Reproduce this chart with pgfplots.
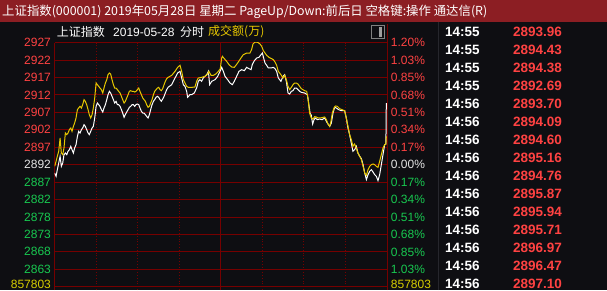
\documentclass[border=0pt]{standalone}
\usepackage{fontspec}
\setmainfont{Liberation Sans}
\newfontfamily\cjk{Noto Sans CJK SC}
\usepackage{pgfplots}
\pgfplotsset{compat=1.18}
\usepackage{pgfplotstable}

\definecolor{bg}{RGB}{14,14,18}
\definecolor{hdr}{RGB}{140,30,35}
\definecolor{gridred}{RGB}{118,0,0}
\definecolor{dotred}{RGB}{140,0,0}
\definecolor{upred}{RGB}{255,66,66}
\definecolor{dngreen}{RGB}{24,200,80}
\definecolor{lbwhite}{RGB}{228,228,228}
\definecolor{ylw}{RGB}{232,200,0}
\definecolor{volylw}{RGB}{215,205,0}

% white line: index price (minute from 9:30, afternoon continues at 120)
\pgfplotstableread{
m p
0.0 2890.02
1.0 2889.07
1.9 2890.96
2.9 2892.86
3.9 2894.76
4.8 2891.91
5.8 2892.86
6.7 2895.23
7.7 2895.70
8.7 2895.23
9.6 2896.18
10.6 2896.65
11.6 2897.60
12.5 2896.65
13.5 2895.70
14.4 2897.13
15.4 2898.07
16.4 2900.44
17.3 2901.87
18.3 2901.39
19.3 2902.34
20.2 2902.81
21.2 2903.76
22.1 2903.29
23.1 2902.34
24.1 2901.39
25.0 2900.92
26.0 2901.87
27.0 2902.81
27.9 2903.29
28.9 2905.66
29.9 2908.98
30.8 2909.92
31.8 2909.45
32.7 2908.98
33.7 2908.03
34.7 2907.36
35.6 2908.50
36.6 2909.45
37.6 2910.87
38.5 2912.29
39.5 2913.24
40.4 2912.77
41.4 2911.82
42.4 2910.87
43.3 2909.92
44.3 2910.40
45.3 2909.45
46.2 2909.45
47.2 2908.98
48.2 2908.03
49.1 2907.08
50.1 2905.85
51.0 2906.61
52.0 2907.36
53.0 2908.03
53.9 2908.69
54.9 2908.98
55.9 2909.45
56.8 2909.45
57.8 2908.98
58.7 2909.45
59.7 2909.64
60.7 2909.45
61.6 2908.50
62.6 2907.55
63.6 2907.08
64.5 2907.08
65.5 2906.61
66.4 2906.13
67.4 2905.66
68.4 2906.61
69.3 2908.03
70.3 2909.45
71.3 2910.40
72.2 2910.87
73.2 2911.54
74.2 2911.82
75.1 2911.54
76.1 2910.87
77.0 2910.40
78.0 2911.06
79.0 2911.82
79.9 2912.77
80.9 2913.72
81.9 2914.38
84.5 2915.14
86.9 2917.03
88.8 2918.46
90.5 2918.93
91.7 2917.03
92.9 2915.14
94.1 2914.66
95.3 2913.24
96.0 2911.54
97.7 2912.29
98.9 2912.29
100.8 2912.77
102.5 2914.19
103.7 2916.09
104.9 2916.56
106.1 2916.09
107.3 2917.03
108.5 2917.51
109.8 2917.98
111.0 2918.93
111.9 2915.14
113.4 2916.09
115.8 2916.56
117.7 2917.51
119.4 2918.93
120.6 2920.07
121.8 2918.93
123.0 2917.51
124.9 2916.56
126.6 2915.61
128.3 2915.14
129.7 2916.09
131.4 2917.51
133.1 2918.93
135.0 2919.40
137.0 2919.12
138.6 2920.07
140.3 2919.69
141.8 2919.40
142.7 2920.83
144.2 2921.96
145.9 2922.72
147.5 2922.91
149.0 2923.67
150.0 2924.14
150.9 2922.72
151.9 2921.30
153.1 2920.64
154.3 2919.88
156.2 2919.88
157.9 2920.07
159.1 2919.69
160.3 2918.93
161.5 2917.03
163.4 2916.09
164.9 2917.51
166.1 2917.98
167.3 2916.09
168.5 2912.77
169.7 2912.48
170.9 2913.24
172.1 2913.43
173.3 2914.19
174.5 2914.19
175.7 2913.72
176.9 2913.24
178.1 2912.96
180.5 2912.77
182.5 2912.29
183.4 2909.92
184.4 2907.08
185.3 2906.42
186.3 2903.95
187.3 2905.18
188.2 2905.66
189.7 2905.18
191.4 2905.37
193.1 2905.18
195.0 2905.66
196.2 2904.71
197.4 2903.95
198.6 2903.29
199.8 2904.24
201.0 2907.08
202.2 2908.69
203.4 2908.50
205.1 2908.03
207.0 2907.74
209.4 2907.74
210.6 2905.66
211.8 2902.81
213.0 2900.92
214.2 2898.55
215.4 2896.18
216.6 2896.65
217.8 2897.60
219.0 2895.70
220.3 2894.76
221.5 2894.09
222.7 2892.39
223.9 2890.02
225.1 2888.12
226.3 2889.54
227.5 2890.49
228.7 2890.96
229.9 2890.30
231.1 2889.54
232.3 2889.07
233.5 2887.84
234.7 2889.54
235.9 2892.39
237.1 2895.23
238.3 2898.07
239.2 2898.26
239.5 2909.91
}\whiteline

% yellow line: leading (unweighted) index
\pgfplotstableread{
m p
0.0 2891.91
1.0 2893.33
1.9 2894.76
2.9 2896.18
3.9 2899.97
4.8 2895.70
5.8 2895.23
6.7 2897.13
7.7 2901.39
8.7 2900.92
9.6 2901.39
10.6 2902.34
11.6 2902.81
12.5 2901.87
13.5 2903.29
14.4 2904.24
15.4 2905.66
16.4 2908.03
17.3 2908.50
18.3 2908.98
19.3 2908.50
20.2 2909.45
21.2 2910.87
22.1 2910.40
23.1 2909.45
24.1 2908.03
25.0 2906.61
26.0 2905.66
27.0 2906.61
27.9 2908.50
28.9 2911.35
29.9 2915.61
30.8 2915.14
31.8 2914.66
32.7 2914.19
33.7 2913.72
34.7 2912.77
35.6 2914.19
36.6 2915.61
37.6 2916.56
38.5 2917.98
39.5 2918.46
40.4 2918.17
41.4 2916.56
42.4 2915.14
43.3 2914.19
44.3 2914.19
45.3 2913.72
46.2 2913.24
47.2 2912.77
48.2 2911.82
49.1 2910.87
50.1 2909.92
51.0 2910.40
52.0 2911.35
53.0 2912.29
53.9 2913.24
54.9 2913.43
55.9 2913.24
56.8 2913.24
57.8 2913.05
58.7 2913.24
59.7 2913.72
60.7 2914.19
61.6 2913.24
62.6 2912.29
63.6 2911.35
64.5 2910.87
65.5 2910.40
66.4 2909.45
67.4 2908.69
68.4 2908.98
69.3 2909.92
70.3 2910.87
71.3 2912.29
72.2 2913.24
73.2 2913.72
74.2 2914.19
75.1 2914.38
76.1 2913.72
77.0 2913.43
78.0 2914.00
79.0 2915.14
79.9 2916.09
80.9 2916.84
81.9 2917.22
84.5 2917.79
86.9 2918.93
88.8 2920.07
90.5 2920.64
91.7 2918.93
92.9 2916.56
94.1 2915.61
95.3 2914.66
96.5 2914.38
98.9 2914.38
101.3 2914.47
102.5 2916.09
103.7 2917.03
106.1 2917.22
108.5 2917.51
110.5 2918.17
111.4 2918.93
112.9 2917.79
114.6 2917.79
116.3 2918.17
118.2 2918.93
119.6 2919.69
120.6 2922.72
121.1 2923.20
122.5 2922.53
124.2 2921.77
125.9 2920.83
127.8 2920.16
129.7 2920.07
130.9 2920.64
132.6 2921.58
134.5 2922.72
136.2 2923.67
138.6 2924.14
141.0 2924.14
142.2 2925.09
143.2 2926.70
144.7 2927.27
146.6 2927.18
148.3 2926.70
149.5 2926.04
150.7 2924.81
151.9 2924.14
153.1 2923.48
154.8 2922.91
156.7 2922.53
157.9 2922.25
159.1 2921.58
160.3 2920.64
161.5 2918.93
163.4 2917.98
164.9 2917.03
166.1 2917.79
167.3 2916.56
168.5 2914.66
169.7 2913.72
170.9 2914.38
172.1 2915.14
173.3 2915.61
174.5 2915.61
175.7 2915.33
176.9 2914.66
178.1 2914.00
180.5 2913.43
182.0 2913.24
182.9 2911.35
184.1 2907.08
185.3 2905.66
186.5 2905.37
187.8 2906.04
189.0 2905.94
190.2 2905.66
192.1 2905.66
193.8 2905.85
195.0 2905.94
196.2 2905.18
197.4 2903.95
198.6 2903.29
199.3 2904.24
200.5 2907.08
201.7 2908.50
202.7 2909.07
204.1 2908.98
205.8 2908.31
207.5 2908.03
209.4 2907.74
210.6 2905.66
211.8 2903.29
213.0 2900.92
214.2 2899.50
215.4 2897.60
216.6 2898.26
217.8 2897.13
219.0 2895.70
220.3 2894.76
221.5 2893.81
222.7 2891.91
223.9 2890.02
225.1 2889.35
226.3 2890.96
227.5 2891.91
228.7 2892.39
229.9 2892.58
231.1 2892.39
232.3 2891.91
233.5 2891.63
234.7 2893.33
235.9 2895.23
237.1 2897.13
238.3 2898.07
239.2 2898.26
239.5 2900.44
}\yellowline

\begin{document}
\begin{tikzpicture}[x=1pt,y=1pt]
\useasboundingbox (0,0) rectangle (607,290);
\fill[bg] (0,0) rectangle (607,290);
\fill[hdr] (0,268) rectangle (607,290);
\node[anchor=west, text=white, inner sep=0pt, font=\cjk\fontsize{12.4}{13}\selectfont] at (2,278.6)
  {上证指数(000001) 2019年05月28日 星期二 PageUp/Down:前后日 空格键:操作 通达信(R)};
% separator of the tick panel
\draw[draw={rgb,255:red,38;green,38;blue,44}, line width=1pt] (438.5,0) -- (438.5,268);
% right border extension and the small toggle box
\draw[gridred, line width=1pt] (387,247.35) -- (387,266);
\draw[gray, line width=1pt] (371.5,252) rectangle (384,265);
\fill[gray!75] (379,253.5) rectangle (382,263.5);

\begin{axis}[
  at={(54.7pt,0pt)}, anchor=south west,
  scale only axis, width=332.3pt, height=247.35pt,
  xmin=0, xmax=240, ymin=2856.74, ymax=2927.09,
  axis line style={draw=none},
  major tick length=0pt,
  xtick={0,120,240}, xticklabels={},
  extra x ticks={30,60,90,150,180,210}, extra x tick labels={},
  xmajorgrids, ymajorgrids,
  x grid style={draw=gridred, line width=1pt},
  y grid style={draw=gridred, line width=1pt},
  extra x tick style={grid style={draw=dotred, line width=1pt, dash pattern=on 1pt off 1.8pt}},
  ytick={2857.67,2862.63,2867.59,2872.54,2877.50,2882.46,2887.42,2892.38,2897.34,2902.30,2907.26,2912.21,2917.17,2922.13,2927.09},
  yticklabels={{},\textcolor{dngreen}{2863},\textcolor{dngreen}{2868},\textcolor{dngreen}{2873},\textcolor{dngreen}{2878},\textcolor{dngreen}{2882},\textcolor{dngreen}{2887},\textcolor{lbwhite}{2892},\textcolor{upred}{2897},\textcolor{upred}{2902},\textcolor{upred}{2907},\textcolor{upred}{2912},\textcolor{upred}{2917},\textcolor{upred}{2922},\textcolor{upred}{2927}},
  extra y ticks={2892.38}, extra y tick labels={},
  extra y tick style={grid style={draw=gridred, line width=2.2pt}},
  yticklabel style={font=\fontsize{12}{12}\selectfont, inner sep=0pt, anchor=east, xshift=-3.6pt},
  ytick pos=left, xtick pos=bottom,
  clip=true,
]
\addplot[white, line width=1pt, line join=miter] table[x=m, y=p] {\whiteline};
\addplot[ylw, line width=1pt, line join=miter] table[x=m, y=p] {\yellowline};
\end{axis}

% volume figure at the bottom of both scales
\node[anchor=east, inner sep=0pt, text=volylw, font=\fontsize{12}{12}\selectfont] at (51.1,5.65) {857803};
\node[anchor=west, inner sep=0pt, text=volylw, font=\fontsize{12}{12}\selectfont] at (390.7,5.65) {857803};

% second title line
\node[anchor=west, inner sep=0pt, text=white, font=\cjk\fontsize{12}{12}\selectfont] at (56.7,258) {上证指数};
\node[anchor=west, inner sep=0pt, text=white, font=\fontsize{12}{12}\selectfont] at (113,258) {2019-05-28};
\node[anchor=west, inner sep=0pt, text=white, font=\cjk\fontsize{12}{12}\selectfont] at (180,258) {分时};
\node[anchor=west, inner sep=0pt, text=ylw, font=\cjk\fontsize{12}{12}\selectfont] at (208,258) {成交额(万)};

% right percentage labels
\foreach \k/\lab/\col in {7/1.20\%/upred,6/1.03\%/upred,5/0.85\%/upred,4/0.68\%/upred,3/0.51\%/upred,2/0.34\%/upred,1/0.17\%/upred,0/0.00\%/lbwhite,-1/0.17\%/dngreen,-2/0.34\%/dngreen,-3/0.51\%/dngreen,-4/0.68\%/dngreen,-5/0.85\%/dngreen,-6/1.03\%/dngreen}
  \node[anchor=west, inner sep=0pt, text=\col, font=\fontsize{12}{12}\selectfont] at (390.7,{125.3+17.4357*\k}) {\lab};

% tick list panel
\foreach \i/\t/\v in {0/14:55/2893.96,1/14:55/2894.43,2/14:55/2894.38,3/14:55/2892.69,4/14:56/2893.70,5/14:56/2894.09,6/14:56/2894.60,7/14:56/2895.16,8/14:56/2894.76,9/14:56/2895.87,10/14:56/2895.94,11/14:56/2895.71,12/14:56/2896.97,13/14:56/2896.47,14/14:56/2897.10}{
  \node[anchor=west, inner sep=0pt, text=white, font=\bfseries\fontsize{13.5}{14}\selectfont] at (445,{290-31.7-18*\i}) {\t};
  \node[anchor=west, inner sep=0pt, text=upred, font=\bfseries\fontsize{13.5}{14}\selectfont] at (513,{290-31.7-18*\i}) {\v};
}
\end{tikzpicture}
\end{document}
